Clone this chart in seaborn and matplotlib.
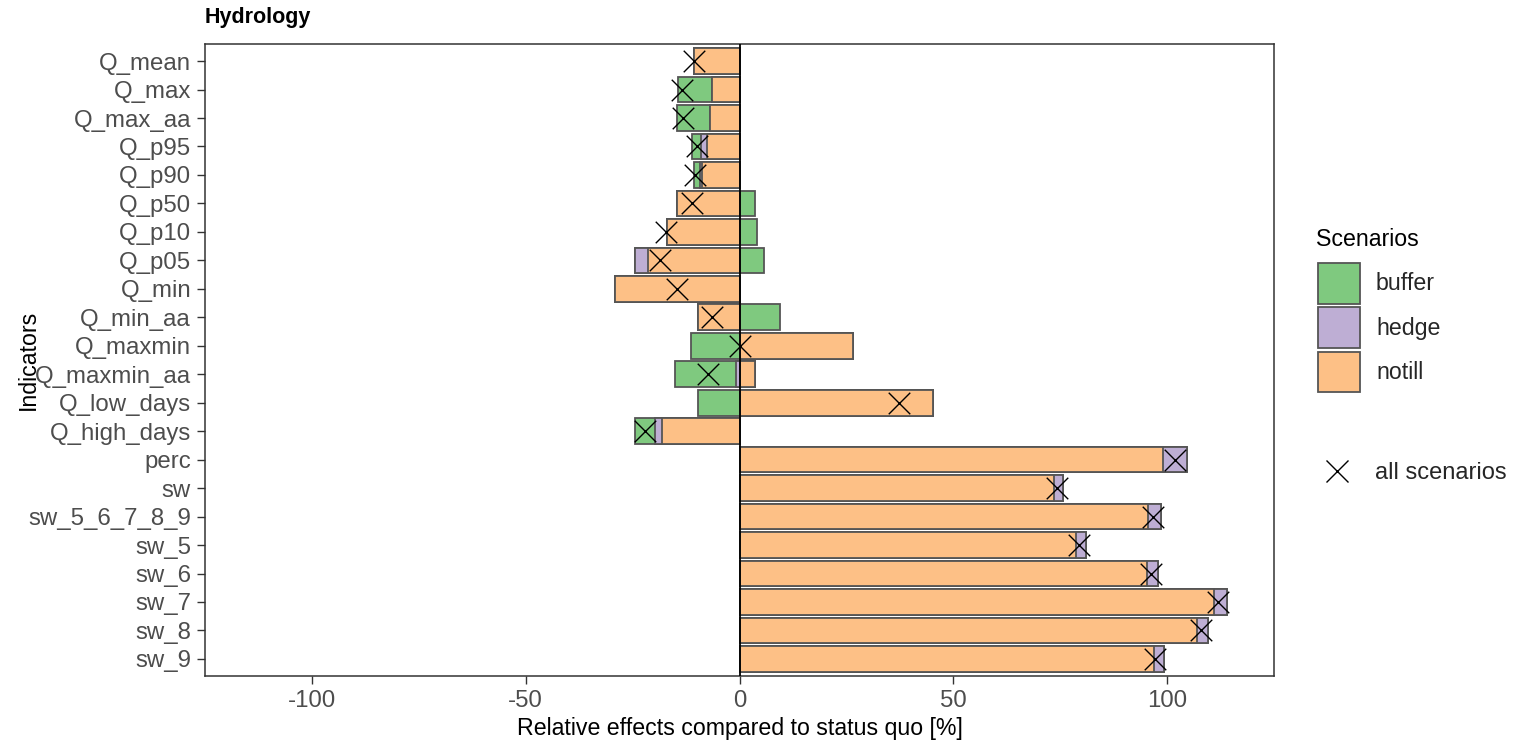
import numpy as np
import pandas as pd
import matplotlib
matplotlib.use("Agg")
import matplotlib.pyplot as plt
from matplotlib.patches import Patch
from matplotlib.lines import Line2D
import seaborn as sns

# Indicators (top to bottom) and relative effects per scenario [%]
indicators = ["Q_mean", "Q_max", "Q_max_aa", "Q_p95", "Q_p90", "Q_p50", "Q_p10",
              "Q_p05", "Q_min", "Q_min_aa", "Q_maxmin", "Q_maxmin_aa", "Q_low_days",
              "Q_high_days", "perc", "sw", "sw_5_6_7_8_9", "sw_5", "sw_6", "sw_7",
              "sw_8", "sw_9"]
buffer = [0.0, -7.8, -7.8, -2.1, -1.4, 3.6, 4.0, 5.8, 0.0, 9.5, -11.4, -14.2, -9.8,
          -4.7, 0.0, 0.0, 0.0, 0.0, 0.0, 0.0, 0.0, 0.0]
hedge = [0.0, 0.0, 0.0, -1.2, -0.4, 0.0, 0.0, -3.1, 0.0, 0.0, 0.0, -0.9, 0.0,
         -1.5, 5.5, 2.1, 3.0, 2.3, 2.7, 3.1, 2.7, 2.3]
notill = [-10.6, -6.5, -6.9, -7.7, -8.8, -14.7, -17.0, -21.3, -29.0, -9.8, 26.5, 3.7,
          45.3, -18.2, 99.1, 73.5, 95.6, 78.8, 95.2, 111.0, 106.9, 97.0]
all_scenarios = [-10.6, -13.5, -13.1, -10.0, -10.4, -11.2, -17.1, -18.6, -14.5, -6.5,
                 0.0, -7.3, 37.4, -22.2, 101.8, 74.3, 96.6, 79.4, 96.2, 111.8, 107.9, 97.2]
scenarios = ["buffer", "hedge", "notill"]
x_ticks = [-100, -50, 0, 50, 100]

colors = {"buffer": "#7FC97F", "hedge": "#BEAED4", "notill": "#FDC086"}
edge = "#555555"

sns.set_style("white")
plt.rcParams["font.family"] = ["Liberation Sans", "DejaVu Sans"]

fig = plt.figure(figsize=(15.32, 7.45), dpi=100)
ax = fig.add_axes([205 / 1532, 1 - 676 / 745, (1274 - 205) / 1532, (676 - 44) / 745])

# Stack outward from zero: notill, then hedge, then buffer (separately for each sign)
vals = {"buffer": np.array(buffer), "hedge": np.array(hedge), "notill": np.array(notill)}
stack_order = ["notill", "hedge", "buffer"]
for sign in (-1, 1):
    cum = np.zeros(len(indicators))
    ends = {}
    for s in stack_order:
        part = np.where(np.sign(vals[s]) == sign, vals[s], 0.0)
        cum = cum + part
        ends[s] = cum.copy()
    # draw outermost first so inner segments sit on top
    for s in reversed(stack_order):
        df = pd.DataFrame({"Indicators": indicators, "value": ends[s]})
        sns.barplot(data=df, x="value", y="Indicators", order=indicators, orient="h",
                    color=colors[s], saturation=1, width=0.9, edgecolor=edge,
                    linewidth=1.3, ax=ax, errorbar=None)

ax.axvline(0, color="black", linewidth=1.3, zorder=5)

pts = pd.DataFrame({"Indicators": indicators, "value": all_scenarios})
sns.stripplot(data=pts, x="value", y="Indicators", order=indicators, orient="h",
              jitter=False, marker="x", size=15.5, color="black", linewidth=1.0,
              ax=ax, zorder=6)

ax.set_xlim(-125, 125)
ax.set_ylim(len(indicators) - 0.4, -0.6)
ax.set_xticks(x_ticks)
ax.set_xticklabels([str(t) for t in x_ticks])
ax.set_xlabel("")
ax.set_ylabel("")
ax.tick_params(axis="both", which="both", length=6, width=1.0, color="#333333",
               labelsize=17.3, labelcolor="#4D4D4D", pad=4, direction="out",
               bottom=True, left=True)
for sp in ax.spines.values():
    sp.set_visible(True)
    sp.set_color("#333333")
    sp.set_linewidth(1.1)

fig.text(205 / 1532, 1 - 18 / 745, "Hydrology", fontsize=15.5, fontweight="bold",
         ha="left", va="center", color="black")
fig.text((205 + 1274) / 2 / 1532, 1 - 728 / 745, "Relative effects compared to status quo [%]",
         fontsize=16.7, ha="center", va="center", color="black")
fig.text(28 / 1532, 1 - 360 / 745, "Indicators", fontsize=16.7, rotation=90,
         ha="center", va="center", color="black")

# Legend: title, fill keys, and the marker key
fig.text(1316 / 1532, 1 - 240 / 745, "Scenarios", fontsize=16.7, ha="left",
         va="center", color="black")
handles = [Patch(facecolor=colors[s], edgecolor=edge, linewidth=1.3, label=s) for s in scenarios]
leg1 = fig.legend(handles=handles, loc="upper left",
                  bbox_to_anchor=(1318 / 1532, 1 - 263 / 745), frameon=False,
                  fontsize=16.7, handlelength=1.8, handleheight=2.31,
                  labelspacing=0.17, handletextpad=0.7, borderpad=0, borderaxespad=0)
marker_handle = [Line2D([], [], marker="x", color="black", linestyle="none",
                        markersize=15.5, markeredgewidth=1.0, label="all scenarios")]
leg2 = fig.legend(handles=marker_handle, loc="center left",
                  bbox_to_anchor=(1316 / 1532, 1 - 473 / 745), frameon=False,
                  fontsize=17, handlelength=1.8, handletextpad=0.7, borderpad=0,
                  borderaxespad=0)

fig.savefig("out.png", dpi=100)
